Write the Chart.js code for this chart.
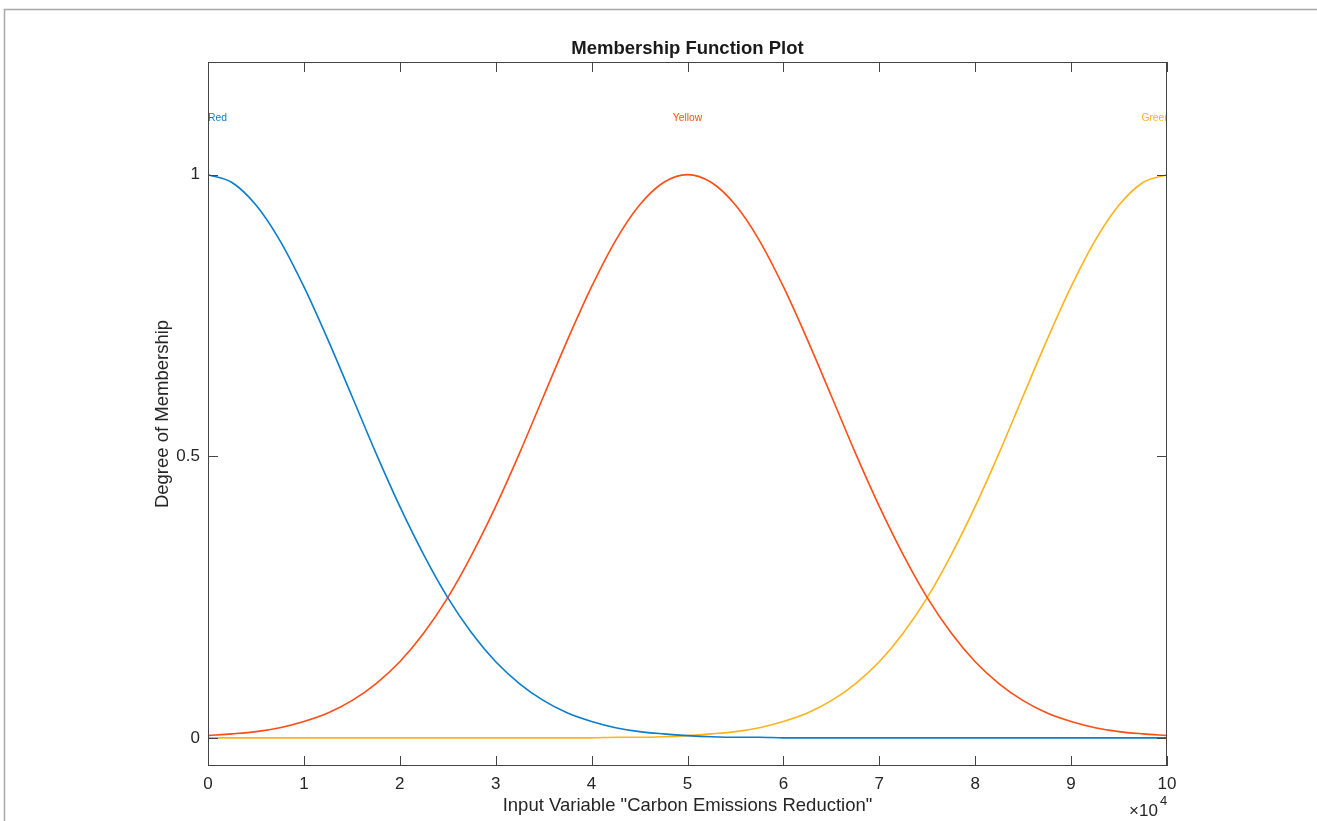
<!DOCTYPE html>
<html>
<head>
<meta charset="utf-8">
<title>Membership Function Plot</title>
<script src="https://cdn.jsdelivr.net/npm/chart.js@4"></script>
<style>
    html, body { margin: 0; padding: 0; background: #fff; }
    canvas { display: block; }
</style>
</head>
<body>
<canvas id="mfChart" width="1317" height="821"></canvas>
<script>
// x positions, step 2500 from 0 to 100000
const xValues = [
    0, 2500, 5000, 7500, 10000, 12500, 15000, 17500, 20000, 22500,
    25000, 27500, 30000, 32500, 35000, 37500, 40000, 42500, 45000, 47500,
    50000, 52500, 55000, 57500, 60000, 62500, 65000, 67500, 70000, 72500,
    75000, 77500, 80000, 82500, 85000, 87500, 90000, 92500, 95000, 97500, 100000
];

const redValues = [
    1, 0.986, 0.946, 0.883, 0.801, 0.707, 0.607, 0.506, 0.411, 0.325,
    0.249, 0.186, 0.135, 0.096, 0.066, 0.044, 0.029, 0.018, 0.011, 0.007,
    0.004, 0.002, 0.001, 0.001, 0, 0, 0, 0, 0, 0,
    0, 0, 0, 0, 0, 0, 0, 0, 0, 0, 0
];

const yellowValues = [
    0.004, 0.007, 0.011, 0.018, 0.029, 0.044, 0.066, 0.096, 0.135, 0.186,
    0.249, 0.325, 0.411, 0.506, 0.607, 0.707, 0.801, 0.883, 0.946, 0.986,
    1, 0.986, 0.946, 0.883, 0.801, 0.707, 0.607, 0.506, 0.411, 0.325,
    0.249, 0.186, 0.135, 0.096, 0.066, 0.044, 0.029, 0.018, 0.011, 0.007, 0.004
];

const greenValues = [
    0, 0, 0, 0, 0, 0, 0, 0, 0, 0,
    0, 0, 0, 0, 0, 0, 0, 0.001, 0.001, 0.002,
    0.004, 0.007, 0.011, 0.018, 0.029, 0.044, 0.066, 0.096, 0.135, 0.186,
    0.249, 0.325, 0.411, 0.506, 0.607, 0.707, 0.801, 0.883, 0.946, 0.986, 1
];

const mfNames = ["Red", "Yellow", "Green"];
const mfPeaks = [0, 50000, 100000];
const mfColors = ["#0a7dcc", "#ff4d14", "#ffb31a"];

const yTicks = [0, 0.5, 1];
const xTicks = [0, 10000, 20000, 30000, 40000, 50000, 60000, 70000, 80000, 90000, 100000];

const FONT = "'Liberation Sans', Arial, sans-serif";
const AXIS_COLOR = "#444444";

function toPoints(ys) {
    return xValues.map((x, i) => ({ x: x, y: ys[i] }));
}

const seriesValues = [redValues, yellowValues, greenValues];

// draws frame, inward ticks, titles and mf labels
const matlabDecor = {
    id: "matlabDecor",
    afterDatasetsDraw(chart) {
        const ctx = chart.ctx;
        const area = chart.chartArea;
        const xs = chart.scales.x;
        const ys = chart.scales.y;

        ctx.save();

        // mf name labels (clipped to the axes)
        ctx.save();
        ctx.beginPath();
        ctx.rect(area.left, area.top, area.right - area.left, area.bottom - area.top);
        ctx.clip();
        ctx.font = "10.3px " + FONT;
        ctx.textBaseline = "middle";
        mfNames.forEach((name, i) => {
            const px = xs.getPixelForValue(mfPeaks[i]);
            const py = ys.getPixelForValue(1.1);
            ctx.fillStyle = mfColors[i];
            if (i === 0) {
                ctx.textAlign = "left";
                ctx.fillText(name, px, py);
            } else if (i === mfNames.length - 1) {
                ctx.textAlign = "right";
                ctx.fillText(name, px + 3, py);
            } else {
                ctx.textAlign = "center";
                ctx.fillText(name, px, py);
            }
        });
        ctx.restore();

        // axes box
        ctx.strokeStyle = AXIS_COLOR;
        ctx.lineWidth = 1;
        ctx.strokeRect(area.left + 0.5, area.top + 0.5, area.right - area.left - 1, area.bottom - area.top - 1);

        // inward ticks
        const tl = 10;
        ctx.beginPath();
        xTicks.forEach(v => {
            const px = Math.round(xs.getPixelForValue(v)) + 0.5;
            ctx.moveTo(px, area.bottom);
            ctx.lineTo(px, area.bottom - tl);
            ctx.moveTo(px, area.top);
            ctx.lineTo(px, area.top + tl);
        });
        yTicks.forEach(v => {
            const py = Math.round(ys.getPixelForValue(v)) + 0.5;
            ctx.moveTo(area.left, py);
            ctx.lineTo(area.left + tl, py);
            ctx.moveTo(area.right, py);
            ctx.lineTo(area.right - tl, py);
        });
        ctx.stroke();

        // title
        ctx.fillStyle = "#1a1a1a";
        ctx.textAlign = "center";
        ctx.textBaseline = "middle";
        ctx.font = "bold 18.5px " + FONT;
        ctx.fillText("Membership Function Plot", (area.left + area.right) / 2, 49);

        // x title
        ctx.fillStyle = "#262626";
        ctx.font = "18.5px " + FONT;
        ctx.fillText('Input Variable "Carbon Emissions Reduction"', (area.left + area.right) / 2, 806);

        // y title
        ctx.save();
        ctx.translate(163, (area.top + area.bottom) / 2);
        ctx.rotate(-Math.PI / 2);
        ctx.fillText("Degree of Membership", 0, 0);
        ctx.restore();

        // exponent marker
        ctx.textAlign = "left";
        ctx.font = "17px " + FONT;
        ctx.fillText("\u00d710", 1129, 811);
        ctx.font = "13px " + FONT;
        ctx.fillText("4", 1160, 801);

        // figure border
        ctx.strokeStyle = "#a8a8a8";
        ctx.lineWidth = 1.5;
        ctx.beginPath();
        ctx.moveTo(4.5, chart.height);
        ctx.lineTo(4.5, 9.5);
        ctx.lineTo(chart.width, 9.5);
        ctx.stroke();

        ctx.restore();
    }
};

document.addEventListener("DOMContentLoaded", () => {
    const ctx = document.getElementById("mfChart").getContext("2d");

    new Chart(ctx, {
        type: "line",
        data: {
            datasets: mfNames.map((name, i) => ({
                label: name,
                data: toPoints(seriesValues[i]),
                borderColor: mfColors[i],
                backgroundColor: mfColors[i],
                borderWidth: 1.6,
                pointRadius: 0,
                cubicInterpolationMode: "monotone",
                fill: false
            }))
        },
        options: {
            responsive: false,
            animation: false,
            layout: { padding: { left: 0, top: 62, right: 150, bottom: 0 } },
            plugins: {
                legend: { display: false },
                tooltip: { enabled: false },
                title: { display: false }
            },
            scales: {
                x: {
                    type: "linear",
                    min: 0,
                    max: 100000,
                    afterBuildTicks: scale => { scale.ticks = xTicks.map(v => ({ value: v })); },
                    afterFit: scale => { scale.height = 55; },
                    grid: { display: false, drawTicks: false },
                    border: { display: false },
                    ticks: {
                        padding: 8,
                        color: "#262626",
                        font: { family: FONT, size: 17 },
                        callback: v => String(v / 10000)
                    }
                },
                y: {
                    type: "linear",
                    min: -0.05,
                    max: 1.2,
                    afterBuildTicks: scale => { scale.ticks = yTicks.map(v => ({ value: v })); },
                    afterFit: scale => { scale.width = 208; },
                    grid: { display: false, drawTicks: false },
                    border: { display: false },
                    ticks: {
                        padding: 8,
                        color: "#262626",
                        font: { family: FONT, size: 17 },
                        callback: v => String(v)
                    }
                }
            }
        },
        plugins: [matlabDecor]
    });
});
</script>
</body>
</html>
